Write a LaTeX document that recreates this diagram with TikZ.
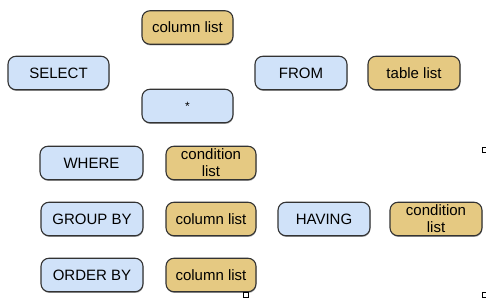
\documentclass[tikz,border=0pt]{standalone}
\usepackage{fontspec}
\setmainfont{Liberation Sans}
\usetikzlibrary{shadows}
\definecolor{bluefill}{HTML}{D0E2F9}
\definecolor{tanfill}{HTML}{E5C982}
\definecolor{edge}{HTML}{333333}
\tikzset{
  boxbase/.style={draw=edge, line width=1.1pt, rounded corners=8pt, minimum height=33.5pt,
    inner sep=0pt, align=center, font=\fontsize{15}{17}\selectfont,
    drop shadow={shadow xshift=0.4pt, shadow yshift=-1.2pt, opacity=0.35, fill=black}},
  kw/.style={boxbase, fill=bluefill},
  arg/.style={boxbase, fill=tanfill},
  handle/.style={draw=black, fill=white, line width=0.8pt, minimum size=5pt, inner sep=0pt}
}
\begin{document}
\begin{tikzpicture}[x=1pt,y=-1pt]
\useasboundingbox (0,0) rectangle (486,302);
\node[arg, minimum width=91pt] (col1) at (187.5,27.5) {column list};
\node[kw, minimum width=101pt] (select) at (58.5,73) {SELECT};
\node[kw, minimum width=91pt, font=\fontsize{12}{14}\selectfont] (star) at (187.5,106) {*};
\node[kw, minimum width=92pt] (from) at (301,73) {FROM};
\node[arg, minimum width=92pt] (table) at (414,73) {table list};
\node[kw, minimum width=103pt] (where) at (91.5,163) {WHERE};
\node[arg, minimum width=90pt] (cond1) at (211,163) {condition\\list};
\node[kw, minimum width=102pt] (group) at (92,219) {GROUP BY};
\node[arg, minimum width=90pt] (col2) at (211,219) {column list};
\node[kw, minimum width=92pt] (having) at (324,219) {HAVING};
\node[arg, minimum width=92pt] (cond2) at (436,219) {condition\\list};
\node[kw, minimum width=102pt] (order) at (92,275) {ORDER BY};
\node[arg, minimum width=90pt] (col3) at (211,275) {column list};
\node[handle] (h1) at (245.5,294.5) {};
\node[handle] (h2) at (485,294.5) {};
\node[handle] (h3) at (485,150) {};
\end{tikzpicture}
\end{document}
